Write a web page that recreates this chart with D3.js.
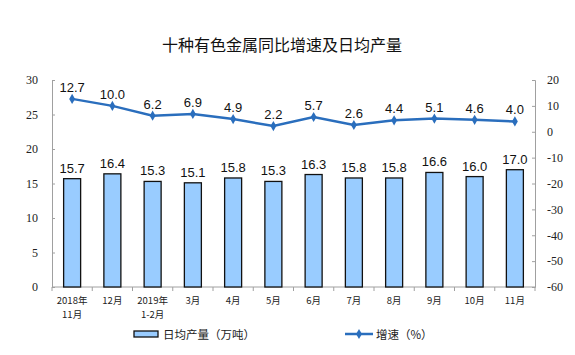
<!DOCTYPE html>
<html><head><meta charset="utf-8">
<script src="https://cdn.jsdelivr.net/npm/d3@7/dist/d3.min.js"></script>
<style>body{margin:0;background:#fff}</style>
</head><body>
<svg id="c" width="575" height="355"></svg>
<script>
const categories = [["2018年","11月"],["12月"],["2019年","1-2月"],["3月"],["4月"],["5月"],["6月"],["7月"],["8月"],["9月"],["10月"],["11月"]];
const output = [15.7,16.4,15.3,15.1,15.8,15.3,16.3,15.8,15.8,16.6,16.0,17.0];
const growth = [12.7,10.0,6.2,6.9,4.9,2.2,5.7,2.6,4.4,5.1,4.6,4.0];
const leftTicks = [0,5,10,15,20,25,30];
const rightTicks = [-60,-50,-40,-30,-20,-10,0,10,20];
const title = "十种有色金属同比增速及日均产量";
const legendBar = "日均产量（万吨）";
const legendLine = "增速（%）";

const svg = d3.select("#c");
const L=52,R=535,T=80,B=287;
const x = d3.scaleBand().domain(d3.range(categories.length)).range([L,R]);
const yL = d3.scaleLinear().domain([0,30]).range([B,T]);
const yR = d3.scaleLinear().domain([-60,20]).range([B,T]);
const axisColor="#a0a0a0";
const cjk = "'Noto Sans CJK SC','Noto Sans',sans-serif";

svg.append("text").attr("x",282).attr("y",51).attr("text-anchor","middle")
  .attr("font-family",cjk).attr("font-size",16).attr("fill","#111").text(title);

// left axis
const gl = svg.append("g").attr("transform",`translate(${L},0)`)
  .call(d3.axisLeft(yL).tickValues(leftTicks).tickSize(-3).tickPadding(14).tickFormat(d=>String(d)));
// right axis
const gr = svg.append("g").attr("transform",`translate(${R},0)`)
  .call(d3.axisRight(yR).tickValues(rightTicks).tickSize(-3).tickPadding(12).tickFormat(d=>String(d)));
[gl,gr].forEach(g=>{
  g.select(".domain").attr("stroke",axisColor);
  g.selectAll(".tick line").attr("stroke",axisColor);
  g.selectAll(".tick text").attr("font-family","'Liberation Serif',serif").attr("font-size",12).attr("fill","#222");
});
gr.selectAll(".tick text").attr("text-anchor","start");

// x axis
const gx = svg.append("g").attr("transform",`translate(0,${B})`);
gx.append("line").attr("x1",L).attr("x2",R).attr("stroke",axisColor);
d3.range(categories.length+1).forEach(i=>{
  const xx = i<categories.length ? x(i) : R;
  gx.append("line").attr("x1",xx).attr("x2",xx).attr("y1",0).attr("y2",4).attr("stroke",axisColor);
});
categories.forEach((c,i)=>{
  c.forEach((s,j)=>gx.append("text").attr("text-anchor","middle").attr("font-family",cjk)
    .attr("font-size",9.5).attr("fill","#222")
    .attr("x",x(i)+x.bandwidth()/2).attr("y",17+j*14).text(s));
});

// bars
const bw = 17;
svg.append("g").selectAll("rect").data(output).join("rect")
  .attr("x",(d,i)=>x(i)+x.bandwidth()/2-bw/2).attr("y",d=>yL(d))
  .attr("width",bw).attr("height",d=>B-yL(d))
  .attr("fill","#99ccff").attr("stroke","#111").attr("stroke-width",1.3);
svg.append("g").selectAll("text").data(output).join("text")
  .attr("x",(d,i)=>x(i)+x.bandwidth()/2).attr("y",d=>yL(d)-6)
  .attr("text-anchor","middle").attr("font-family","'Liberation Sans',Arial,sans-serif")
  .attr("font-size",13).attr("fill","#111").text(d=>d.toFixed(1));

// line
const lineColor="#2a6ebd";
const line = d3.line().x((d,i)=>x(i)+x.bandwidth()/2).y(d=>yR(d));
svg.append("path").datum(growth).attr("d",line).attr("fill","none")
  .attr("stroke",lineColor).attr("stroke-width",2.5);
const diamond = d3.symbol().type(d3.symbolDiamond).size(30);
svg.append("g").selectAll("path").data(growth).join("path")
  .attr("d",diamond).attr("transform",(d,i)=>`translate(${x(i)+x.bandwidth()/2},${yR(d)})`)
  .attr("fill",lineColor);
svg.append("g").selectAll("text").data(growth).join("text")
  .attr("x",(d,i)=>x(i)+x.bandwidth()/2).attr("y",d=>yR(d)-7)
  .attr("text-anchor","middle").attr("font-family","'Liberation Sans',Arial,sans-serif")
  .attr("font-size",13).attr("fill","#111").text(d=>d.toFixed(1));

// legend
svg.append("rect").attr("x",134).attr("y",331).attr("width",24).attr("height",6)
  .attr("fill","#99ccff").attr("stroke","#111").attr("stroke-width",1.3);
svg.append("text").attr("x",163).attr("y",339).attr("font-family",cjk).attr("font-size",11.5)
  .attr("fill","#222").text(legendBar);
svg.append("line").attr("x1",345).attr("x2",373).attr("y1",334).attr("y2",334)
  .attr("stroke",lineColor).attr("stroke-width",2.5);
svg.append("path").attr("d",diamond).attr("transform","translate(359,334)").attr("fill",lineColor);
svg.append("text").attr("x",376).attr("y",339).attr("font-family",cjk).attr("font-size",11.5)
  .attr("fill","#222").text(legendLine);
</script>
</body></html>
